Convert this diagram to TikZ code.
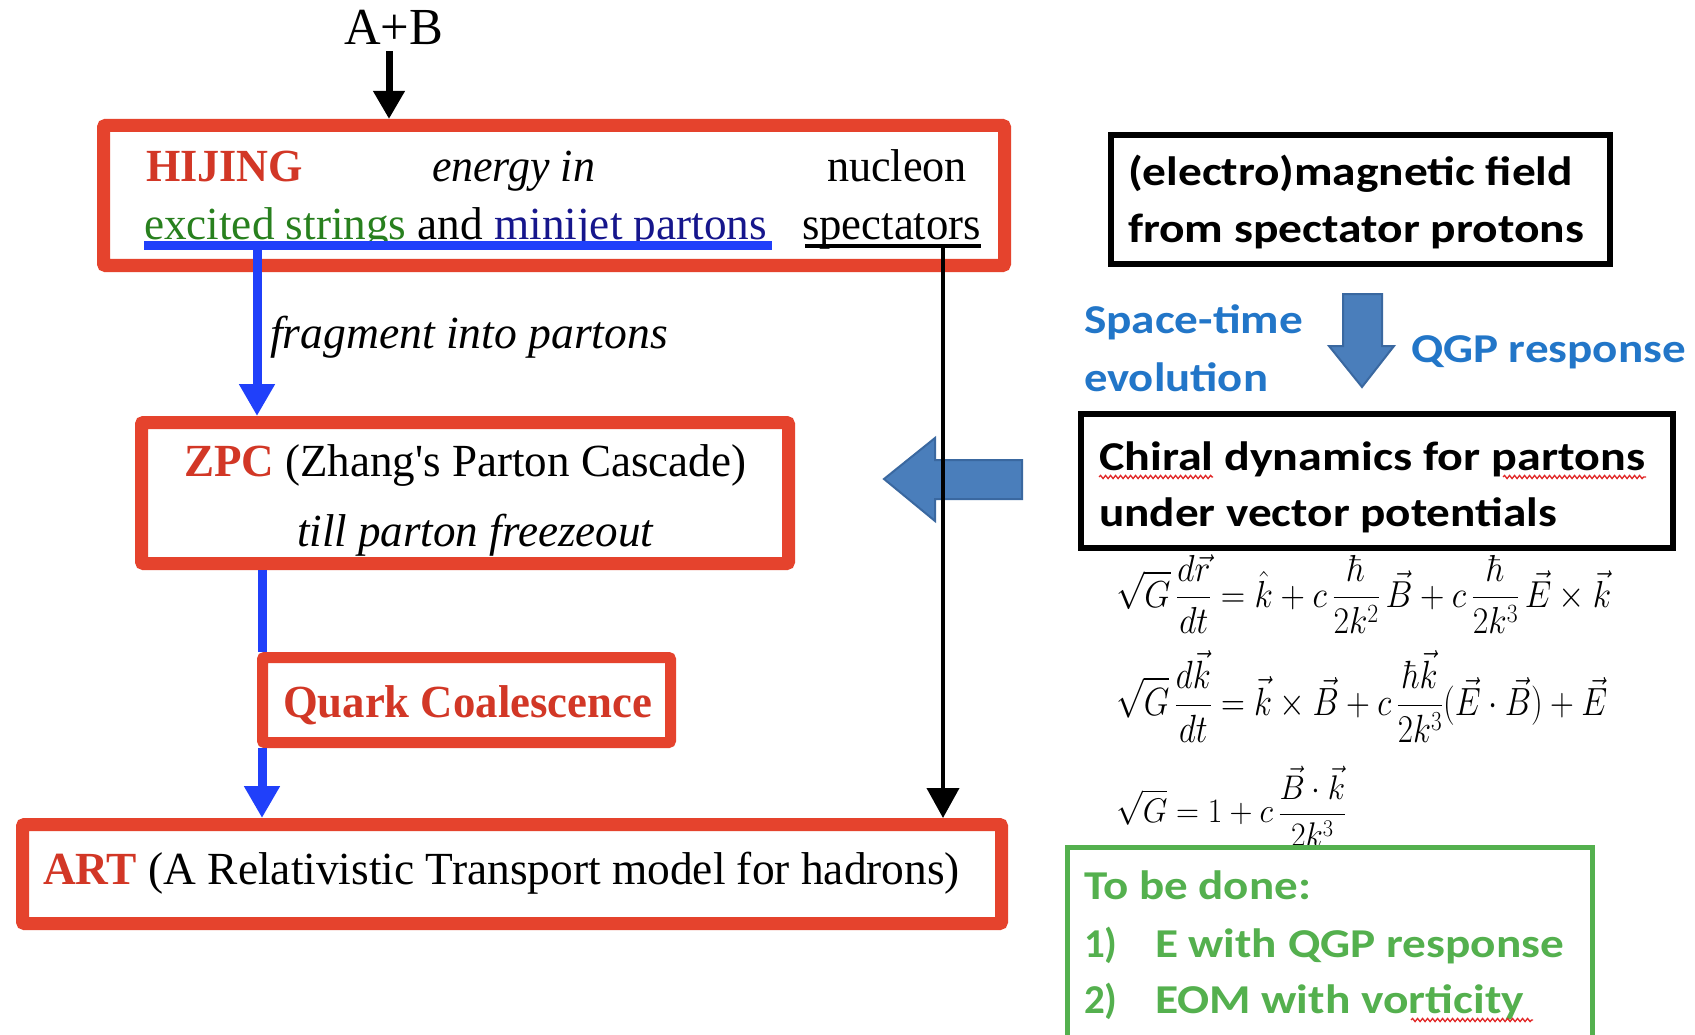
\RequirePackage{fix-cm}
\documentclass[tikz,border=0pt]{standalone}
\usepackage[no-math]{fontspec}
\usepackage{amsmath}
\usepackage{graphicx}
\setmainfont{Liberation Serif}
\newfontfamily\calib{Carlito}
\usetikzlibrary{arrows.meta,decorations.pathmorphing}

\definecolor{boxred}{RGB}{229,67,45}
\definecolor{txtred}{RGB}{210,55,38}
\definecolor{strgreen}{RGB}{40,128,30}
\definecolor{navyblue}{RGB}{22,22,140}
\definecolor{linkblue}{RGB}{32,64,250}
\definecolor{fatblue}{RGB}{74,126,187}
\definecolor{fatedge}{RGB}{58,104,160}
\definecolor{labelblue}{RGB}{34,118,200}
\definecolor{todogreen}{RGB}{84,176,78}
\definecolor{spellred}{RGB}{225,40,40}

% stretch or squeeze a text horizontally to a given width
\newcommand{\fitto}[2]{\resizebox{#1}{\height}{#2}}
% fit a formula into a given width and total height
\newcommand{\fitbox}[3]{\resizebox*{#1}{#2}{#3}}
% straight apostrophe
\newcommand{\straightq}{{\addfontfeature{Ligatures=TeXOff}'}}

\begin{document}
\begin{tikzpicture}[x=1pt,y=-1pt,
  redbox/.style={draw=boxred, fill=white, rectangle, inner sep=0pt, rounded corners=2pt},
  blkbox/.style={draw=black, fill=white, rectangle, line width=6pt, inner sep=0pt},
  txt/.style={anchor=base west, inner sep=0pt, outer sep=0pt},
  serif/.style={font=\fontsize{46}{52}\selectfont},
  sans/.style={font=\calib\bfseries\fontsize{41}{48}\selectfont},
  eqn/.style={anchor=west, inner sep=0pt, font=\fontsize{36}{42}\selectfont},
  bluelink/.style={draw=linkblue, line width=9pt},
  blacklink/.style={draw=black, line width=4pt},
  fatarrow/.style={fill=fatblue, draw=fatedge, line width=2pt, line join=miter},
  spell/.style={draw=spellred, line width=1.3pt, decorate,
    decoration={snake, amplitude=1.6pt, segment length=5pt}}
]
\useasboundingbox (0,0) rectangle (1695,1035);
\clip (0,0) rectangle (1695,1035);
\fill[white] (0,0) rectangle (1695,1035);

% ---------- left column: transport chain ----------
\node[txt, font=\fontsize{52}{58}\selectfont] (ab) at (344,45) {\fitto{99pt}{A+B}};

\node[redbox, line width=13pt, minimum width=901pt, minimum height=140pt] (hij) at (554,195.5) {};
\node[redbox, line width=13pt, minimum width=647pt, minimum height=141pt] (zpc) at (465,493) {};
\node[redbox, line width=11pt, minimum width=408pt, minimum height=85pt] (qc) at (466.5,700) {};
\node[redbox, line width=13pt, minimum width=979pt, minimum height=99pt] (art) at (512,874) {};

% HIJING contents
\node[txt, serif, text=txtred] (hijname) at (146,182) {\fitto{157pt}{\textbf{HIJING}}};
\node[txt, serif] (energy) at (432,182) {\fitto{163pt}{\textit{energy in}}};
\node[txt, serif] (nucleon) at (827,182) {\fitto{140pt}{nucleon}};
\node[txt, serif] (partline) at (144,240) {\fitto{623pt}{{\color{strgreen}excited strings} and {\color{navyblue}minijet partons}}};
\node[txt, serif] (spect) at (802,240) {\fitto{179pt}{spectators}};

% underlines that feed the two flows
\coordinate (bluebarL) at (144,246);
\coordinate (bluebarR) at (772,246);
\coordinate (fragtop) at (257,246);
\coordinate (spectL) at (805,246);
\coordinate (spectR) at (981,246);
\coordinate (specttop) at (943,246);
\draw[draw=linkblue, line width=9pt] (bluebarL) -- (bluebarR);
\draw[draw=black, line width=4pt] (spectL) -- (spectR);

% ZPC contents
\node[txt, serif] (zpcname) at (184,476) {\fitto{562pt}{{\color{txtred}\textbf{ZPC}} (Zhang\straightq s Parton Cascade)}};
\node[txt, serif] (freeze) at (297,546) {\fitto{357pt}{\textit{till parton freezeout}}};

% coalescence and ART contents
\node[txt, serif, text=txtred] (qcname) at (283,717) {\fitto{369pt}{\textbf{Quark Coalescence}}};
\node[txt, serif] (artname) at (43,884) {\fitto{917pt}{{\color{txtred}\textbf{ART}} (A Relativistic Transport model for hadrons)}};

% fragmentation label
\node[txt, serif] (fraglabel) at (270,348) {\fitto{398pt}{\textit{fragment into partons}}};

% ---------- right column: field dynamics ----------
\node[blkbox, minimum width=499pt, minimum height=129pt] (em) at (1360.5,199.5) {};
\node[txt, sans] (em1) at (1128,186) {\fitto{445pt}{(electro)magnetic field}};
\node[txt, sans] (em2) at (1128,243) {\fitto{456pt}{from spectator protons}};

\node[txt, sans, text=labelblue] (st1) at (1084,333) {\fitto{219pt}{Space-time}};
\node[txt, sans, text=labelblue] (st2) at (1084,391) {\fitto{184pt}{evolution}};
\node[txt, sans, text=labelblue] (qgp) at (1411,362) {\fitto{275pt}{QGP response}};

\node[blkbox, minimum width=592pt, minimum height=134pt] (chiral) at (1377,481) {};
\node[txt, sans] (ch1) at (1099,470) {\fitto{546pt}{Chiral dynamics for partons}};
\node[txt, sans] (ch2) at (1099,526) {\fitto{458pt}{under vector potentials}};

% equations of motion
\node[eqn] (eq1) at (1116,594) {\fitbox{495pt}{78pt}{$\displaystyle \sqrt{G}\,\frac{d\vec{r}}{dt}=\hat{k}+c\,\frac{\hbar}{2k^{2}}\,\vec{B}+c\,\frac{\hbar}{2k^{3}}\,\vec{E}\times\vec{k}$}};
\node[eqn] (eq2) at (1116,696) {\fitbox{491pt}{92pt}{$\displaystyle \sqrt{G}\,\frac{d\vec{k}}{dt}=\vec{k}\times\vec{B}+c\,\frac{\hbar\vec{k}}{2k^{3}}(\vec{E}\cdot\vec{B})+\vec{E}$}};
\node[eqn] (eq3) at (1116,806) {\fitbox{230pt}{80pt}{$\displaystyle \sqrt{G}=1+c\,\frac{\vec{B}\cdot\vec{k}}{2k^{3}}$}};

% to-do list box (runs past the lower edge)
\draw[draw=todogreen, fill=white, line width=5pt] (1067.5,1060) -- (1067.5,847.5) -- (1592.5,847.5) -- (1592.5,1060);
\node[txt, sans, text=todogreen] (todo0) at (1084,899) {\fitto{227pt}{To be done:}};
\node[txt, sans, text=todogreen] (todo1n) at (1084,957) {1)};
\node[txt, sans, text=todogreen] (todo1) at (1155,957) {\fitto{409pt}{E with QGP response}};
\node[txt, sans, text=todogreen] (todo2n) at (1084,1013) {2)};
\node[txt, sans, text=todogreen] (todo2) at (1155,1013) {\fitto{369pt}{EOM with vorticity}};

% spell-check squiggles
\draw[spell] (1099,477) -- (1213,477);
\draw[spell] (1503,477) -- (1646,477);
\draw[spell] (1411,1020) -- (1533,1020);

% fat arrows
\draw[fatarrow] (1343,294) -- (1382,294) -- (1382,346) -- (1394,346) -- (1362,387)
  -- (1329,346) -- (1343,346) -- cycle;
\draw[fatarrow] (1022,460) -- (935,460) -- (935,438) -- (884,479) -- (935,521)
  -- (935,499) -- (1022,499) -- cycle;

% ---------- connectors ----------
\draw[draw=black, line width=7pt, -{Triangle[width=30pt,length=28pt]}]
  (ab.south -| 389,0) ++(0,6) -- (389,0 |- hij.north);
\draw[bluelink, -{Triangle[width=34pt,length=32pt]}] (fragtop) -- (fragtop |- zpc.north);
\draw[bluelink] (zpc.south -| 262,0) -- (qc.north -| 262,0);
\draw[bluelink, -{Triangle[width=34pt,length=32pt]}] (qc.south -| 262,0) -- (art.north -| 262,0);
\draw[blacklink, -{Triangle[width=32pt,length=30pt]}] (specttop) -- (specttop |- art.north);

\end{tikzpicture}
\end{document}
